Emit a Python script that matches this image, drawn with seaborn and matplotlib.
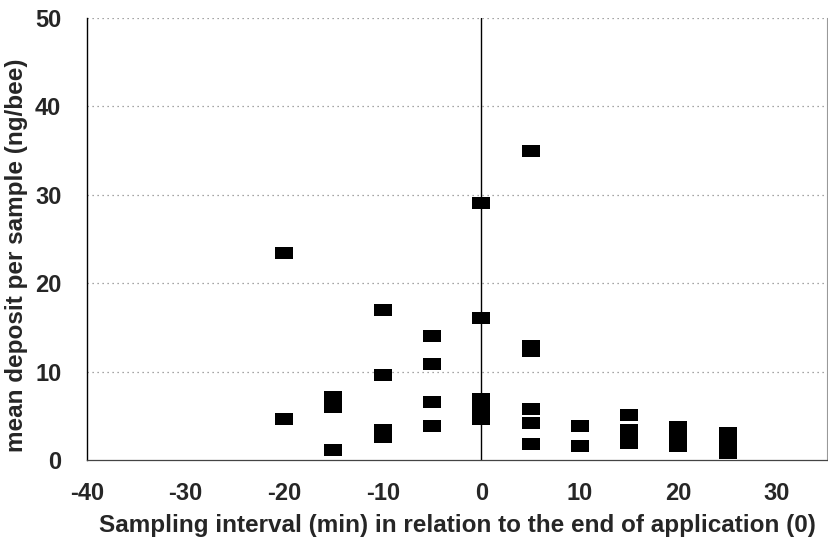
import matplotlib
matplotlib.use("Agg")
import matplotlib.pyplot as plt
import seaborn as sns
import pandas as pd
from matplotlib.ticker import MultipleLocator

# Data (x = sampling interval in min, y = mean deposit ng/bee)
x_m20 = [-20, -20]
y_m20 = [23.4, 4.6]
x_m15 = [-15, -15, -15]
y_m15 = [7.1, 6.0, 1.15]
x_m10 = [-10, -10, -10, -10]
y_m10 = [17.0, 9.6, 3.4, 2.6]
x_m5 = [-5, -5, -5, -5]
y_m5 = [14.0, 10.9, 6.6, 3.8]
x_0 = [0, 0, 0, 0, 0, 0]
y_0 = [29.1, 16.1, 6.9, 6.0, 5.3, 4.6]
x_5 = [5, 5, 5, 5, 5, 5]
y_5 = [34.9, 12.9, 12.3, 5.8, 4.15, 1.8]
x_10 = [10, 10]
y_10 = [3.9, 1.6]
x_15 = [15, 15, 15, 15]
y_15 = [5.1, 3.4, 2.7, 1.9]
x_20 = [20, 20, 20, 20]
y_20 = [3.7, 3.0, 2.3, 1.6]
x_25 = [25, 25, 25, 25]
y_25 = [3.0, 2.2, 1.5, 0.8]

xs = x_m20 + x_m15 + x_m10 + x_m5 + x_0 + x_5 + x_10 + x_15 + x_20 + x_25
ys = y_m20 + y_m15 + y_m10 + y_m5 + y_0 + y_5 + y_10 + y_15 + y_20 + y_25
df = pd.DataFrame({"interval": xs, "deposit": ys})

xticks = [-40, -30, -20, -10, 0, 10, 20, 30]
yticks = [0, 10, 20, 30, 40, 50]

sns.set_style("white")
plt.rcParams["font.family"] = ["Liberation Sans", "DejaVu Sans"]
plt.rcParams["axes.unicode_minus"] = False

fig = plt.figure(figsize=(8.29, 5.46), dpi=100)
ax = fig.add_axes([0.105, 0.1575, 0.893, 0.81])

# dotted horizontal grid
for yv in yticks[1:]:
    ax.axhline(yv, color="#888888", linestyle=(0, (1, 3)), linewidth=0.9, zorder=0)
# vertical line at end of application
ax.axvline(0, color="black", linewidth=1.0, zorder=1)

rect = [(-1, -0.62), (1, -0.62), (1, 0.62), (-1, 0.62), (-1, -0.62)]
sns.scatterplot(data=df, x="interval", y="deposit", ax=ax, marker=rect,
                s=185, color="black", edgecolor="black", linewidth=0, zorder=3)

ax.set_xlim(-40, 35.1)
ax.set_ylim(0, 50)
ax.set_xticks(xticks)
ax.set_yticks(yticks)
ax.xaxis.set_minor_locator(MultipleLocator(5))
ax.yaxis.set_minor_locator(MultipleLocator(5))
ax.tick_params(axis="both", which="major", direction="inout", length=9, width=1.0,
               color="black", labelsize=17)
ax.tick_params(axis="both", which="minor", direction="inout", length=7, width=0.9,
               color="black")
ax.tick_params(axis="x", pad=11)
ax.tick_params(axis="y", pad=14)
for lab in ax.get_xticklabels() + ax.get_yticklabels():
    lab.set_fontweight("bold")

ax.spines["top"].set_visible(False)
ax.spines["left"].set_color("black")
ax.spines["left"].set_linewidth(1.0)
ax.spines["bottom"].set_color("#444444")
ax.spines["bottom"].set_linewidth(0.9)
ax.spines["right"].set_color("#999999")
ax.spines["right"].set_linewidth(0.8)

ax.set_xlabel("Sampling interval (min) in relation to the end of application (0)",
              fontsize=17.5, fontweight="bold", labelpad=7)
ax.set_ylabel("mean deposit per sample (ng/bee)", fontsize=17.5,
              fontweight="bold")
ax.yaxis.set_label_coords(-0.08, 0.462)

fig.savefig("out.png", dpi=100, facecolor="white")
